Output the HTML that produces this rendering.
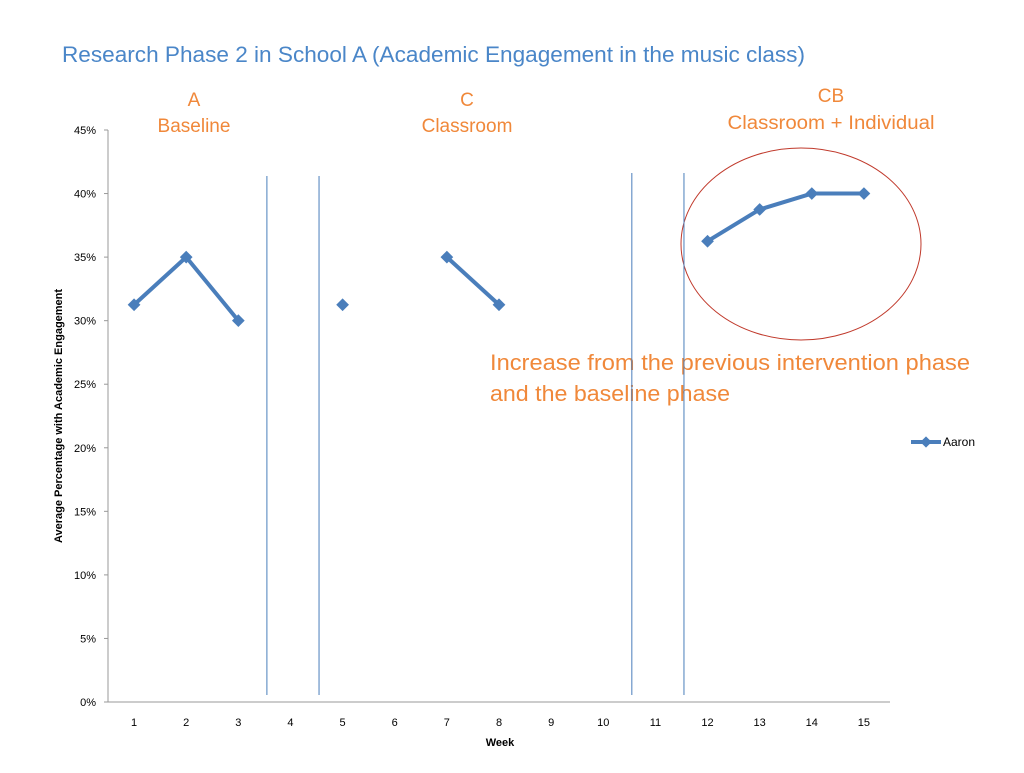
<!DOCTYPE html>
<html><head><meta charset="utf-8"><style>
body{margin:0;background:#fff;width:1024px;height:768px;overflow:hidden}
svg{font-family:"Liberation Sans",sans-serif}
</style></head><body>
<svg id="chart" width="1024" height="768" xmlns="http://www.w3.org/2000/svg">
<text x="62" y="62" font-size="22.6" fill="#4a86c8" textLength="743" lengthAdjust="spacingAndGlyphs">Research Phase 2 in School A (Academic Engagement in the music class)</text>
<g fill="#f0883a" font-size="19" text-anchor="middle">
<text x="194" y="106">A</text>
<text x="194" y="132">Baseline</text>
<text x="467" y="106">C</text>
<text x="467" y="132">Classroom</text>
<text x="831" y="102">CB</text>
<text x="831" y="129" textLength="207" lengthAdjust="spacingAndGlyphs">Classroom + Individual</text>
</g>
<g fill="#f0883a" font-size="22">
<text x="490" y="370" textLength="480" lengthAdjust="spacingAndGlyphs">Increase from the previous intervention phase</text>
<text x="490" y="401" textLength="240" lengthAdjust="spacingAndGlyphs">and the baseline phase</text>
</g>
<ellipse cx="801" cy="244" rx="120" ry="96" fill="none" stroke="#c0392b" stroke-width="1"/>
<g id="axes"></g>
<g id="marks"></g>
<text transform="translate(62,416) rotate(-90)" font-size="11" font-weight="bold" text-anchor="middle">Average Percentage with Academic Engagement</text>
<text x="500" y="746" font-size="11" font-weight="bold" text-anchor="middle">Week</text>
<g>
<line x1="911" y1="442" x2="941" y2="442" stroke="#4a7ebb" stroke-width="4"/>
<rect x="922" y="438" width="8" height="8" fill="#4a7ebb" transform="rotate(45 926 442)"/>
<text x="943" y="446" font-size="12">Aaron</text>
</g>
</svg>
<script>
const weeks=[1,2,3,4,5,6,7,8,9,10,11,12,13,14,15];
const aaron=[31.25,35,30,null,31.25,null,35,31.25,null,null,null,36.25,38.75,40,40];
const yTicks=[0,5,10,15,20,25,30,35,40,45];
const phaseLines=[3.5,4.5,10.5,11.5];
const NS="http://www.w3.org/2000/svg";
const x0=108,x1=890,y0=702,y1=130;
const xs=i=>x0+(i+0.5)*(x1-x0)/weeks.length;
const xv=v=>x0+(v-0.5)*(x1-x0)/weeks.length;
const ys=v=>y0-(v/45)*(y0-y1);
function mk(t,a,p){const e=document.createElementNS(NS,t);for(const k in a)e.setAttribute(k,a[k]);p.appendChild(e);return e;}
const ax=document.getElementById('axes'),mg=document.getElementById('marks');
let l=mk('line',{x1:x0,y1:y1,x2:x0,y2:y0,stroke:'#999'},ax);


l=mk('line',{x1:x0,y1:y0,x2:x1,y2:y0,stroke:'#999'},ax);


yTicks.forEach(v=>{
 mk('line',{x1:x0-4,y1:ys(v),x2:x0,y2:ys(v),stroke:'#999'},ax);
 const t=mk('text',{x:x0-12,y:ys(v)+4,'font-size':11,'text-anchor':'end'},ax);
 t.textContent=v+'%';
 
 
});
weeks.forEach((w,i)=>{
 const t=mk('text',{x:xs(i),y:726,'font-size':11,'text-anchor':'middle'},ax);
 t.textContent=w;
 
 
});
phaseLines.forEach((p,i)=>{
 const top=i<2?176:173;
 const x=xv(p)+2.5;
 const e=mk('line',{x1:x,y1:top,x2:x,y2:695,stroke:'#4a7ebb','stroke-width':1},mg);
 
 
});
let seg=[];
const segs=[];
aaron.forEach((v,i)=>{if(v==null){if(seg.length)segs.push(seg);seg=[];}else seg.push([xs(i),ys(v)]);});
if(seg.length)segs.push(seg);
segs.forEach(s=>{if(s.length>1){
 const p=mk('polyline',{points:s.map(q=>q.join(',')).join(' '),fill:'none',stroke:'#4a7ebb','stroke-width':4,'stroke-linejoin':'round'},mg);
 
 
}});
aaron.forEach((v,i)=>{if(v==null)return;
 const x=xs(i),y=ys(v);
 const r=mk('rect',{x:x-4.5,y:y-4.5,width:9,height:9,fill:'#4a7ebb',transform:`rotate(45 ${x} ${y})`},mg);
 
 
});
</script>
</body></html>
